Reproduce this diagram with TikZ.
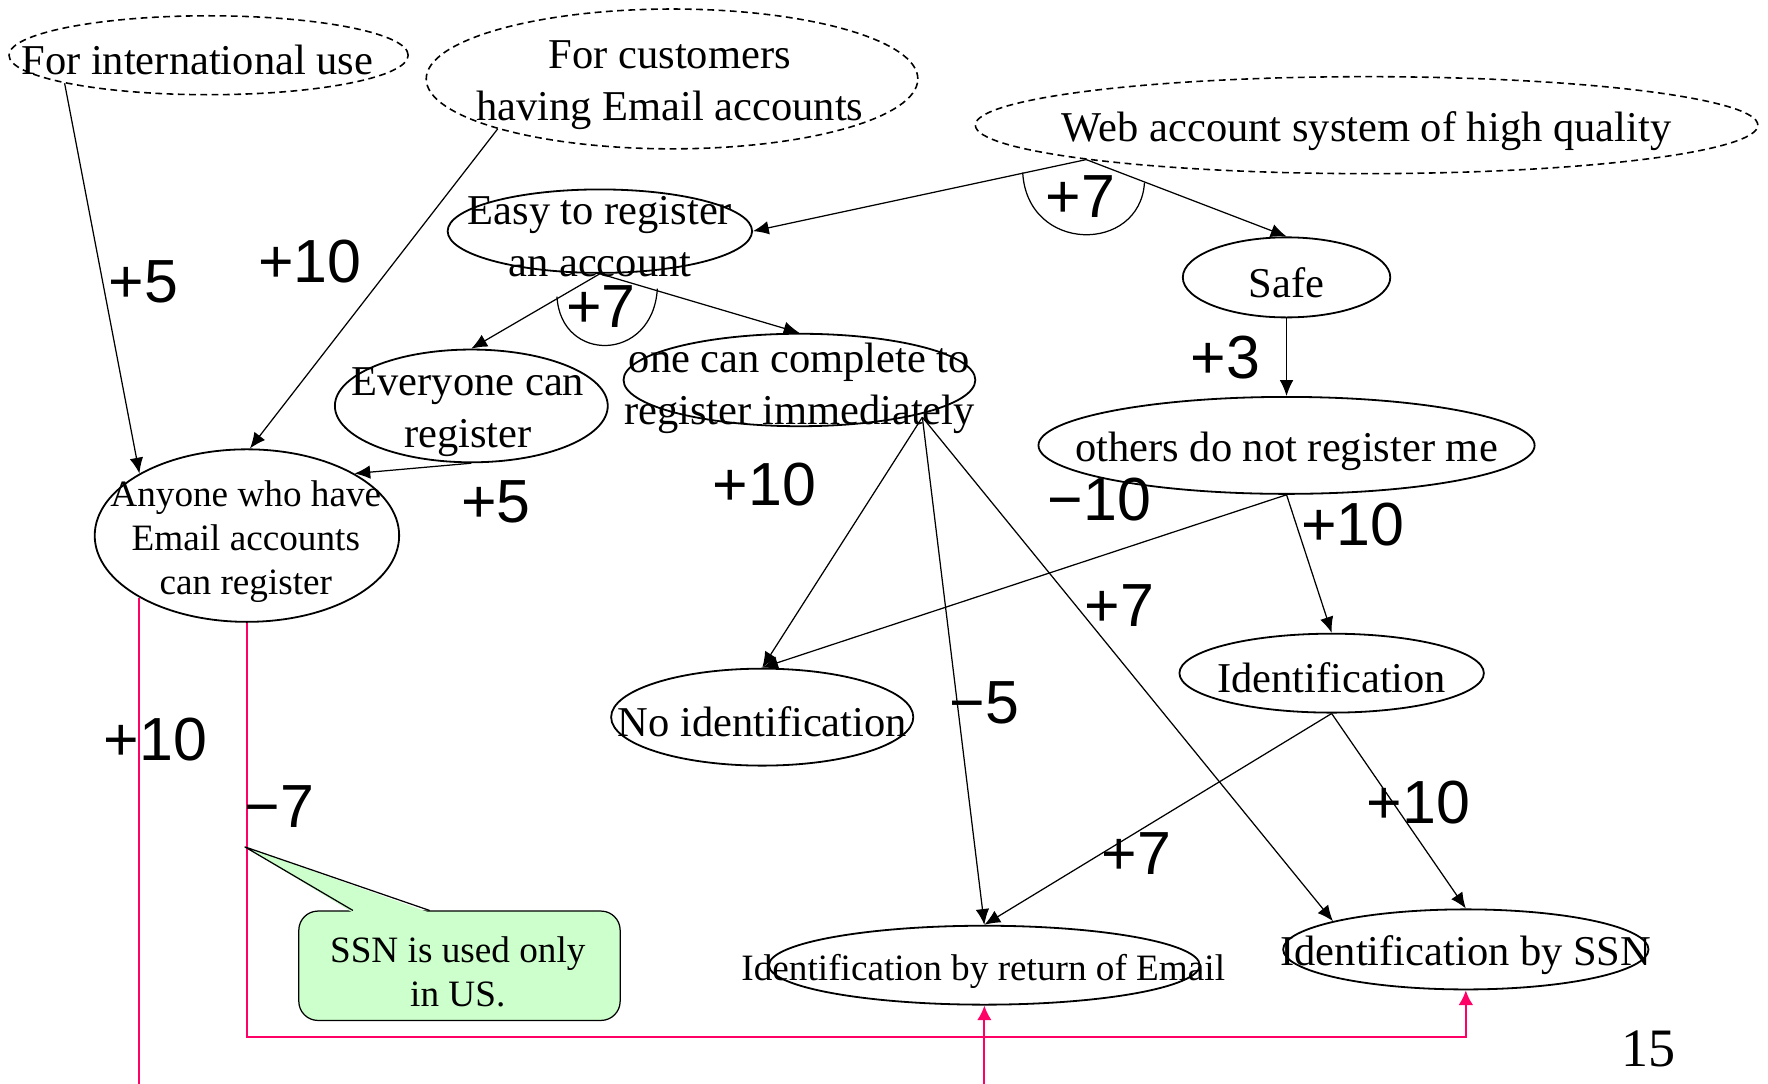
\documentclass[tikz,border=0pt]{standalone}
\usepackage{fontspec}
\setmainfont{Liberation Serif}
\newfontfamily\numfont{Liberation Sans}
\usetikzlibrary{shapes.geometric,arrows.meta,calc}

\definecolor{linkpink}{RGB}{255,0,102}
\definecolor{notegreen}{RGB}{204,255,204}

\begin{document}
\begin{tikzpicture}[x=1pt,y=-1pt,
  goal/.style={ellipse,draw,line width=1.6pt,inner sep=0pt},
  softgoal/.style={goal,dash pattern=on 6pt off 4pt,line width=1.4pt},
  bigtxt/.style={font=\fontsize{37.7}{46}\selectfont,align=center,inner sep=0pt},
  smalltxt/.style={font=\fontsize{33}{39}\selectfont,align=center,inner sep=0pt},
  weight/.style={font=\numfont\fontsize{54}{60}\selectfont,inner sep=0pt},
  link/.style={line width=1.1pt,-{Latex[length=14pt,width=12pt]}},
  plain/.style={line width=1.1pt},
  corr/.style={line width=1.8pt,draw=linkpink},
  corrarrow/.style={corr,-{Latex[length=13pt,width=13pt]}},
]
\useasboundingbox (0,0) rectangle (1568,961);

% goal ellipses
\node[softgoal,minimum width=354pt,minimum height=70pt] (intl) at (185,49) {};
\node[softgoal,minimum width=436pt,minimum height=124pt] (cust) at (596,70) {};
\node[softgoal,minimum width=694pt,minimum height=86pt] (web) at (1212,111) {};
\node[goal,minimum width=270pt,minimum height=74pt] (easy) at (532,205) {};
\node[goal,minimum width=184pt,minimum height=71pt] (safe) at (1141,246) {};
\node[goal,minimum width=242pt,minimum height=100pt] (every) at (418,360) {};
\node[goal,minimum width=312pt,minimum height=82pt] (one) at (709,337) {};
\node[goal,minimum width=440pt,minimum height=86pt] (others) at (1141,395) {};
\node[goal,minimum width=270pt,minimum height=153pt] (anyone) at (219,475) {};
\node[goal,minimum width=268pt,minimum height=86pt] (noid) at (676,636) {};
\node[goal,minimum width=270pt,minimum height=70pt] (ident) at (1181,597) {};
\node[goal,minimum width=382pt,minimum height=70pt] (email) at (873,856) {};
\node[goal,minimum width=324pt,minimum height=71pt] (ssn) at (1300,842) {};

% goal texts
\node[bigtxt] (intl-t) at (175,53.5) {For international use};
\node[bigtxt] (cust-t) at (594,75.5) {For customers\\having Email accounts};
\node[bigtxt] (web-t) at (1212,116.5) {Web account system of high quality};
\node[bigtxt] (easy-t) at (532,209.5) {Easy to register\\an account};
\node[bigtxt] (safe-t) at (1141,250.5) {Safe};
\node[bigtxt] (every-t) at (415,365.5) {Everyone can\\register};
\node[bigtxt] (one-t) at (709,344.5) {one can complete to\\register immediately};
\node[bigtxt] (others-t) at (1141,400.5) {others do not register me};
\node[smalltxt] (anyone-t) at (218,480.5) {Anyone who have\\Email accounts\\can register};
\node[bigtxt] (noid-t) at (676,640.5) {No identification};
\node[bigtxt] (ident-t) at (1181,601.5) {Identification};
\node[smalltxt] (email-t) at (872,861.5) {Identification by return of Email};
\node[bigtxt] (ssn-t) at (1300,847) {Identification by SSN};

% contribution links
\draw[link] (intl.191) -- (anyone.150);
\draw[link] (cust.196) -- (anyone.88);
\coordinate (webfork) at (web.187);
\draw[link] (webfork) -- (easy.east);
\draw[link] (webfork) -- (safe.north);
\draw[plain] (907,153) .. controls (911,225) and (1011,225) .. (1015,162);
\draw[link] (easy.south) -- (every.north);
\draw[link] (easy.south) -- (one.north);
\draw[plain] (494,263) .. controls (497,322) and (579,322) .. (583,256);
\draw[link] (every.south) -- (anyone.30);
\draw[link] (safe.south) -- (others.north);
\coordinate (onefork) at ($(one.center)+(109,33)$);
\draw[link] (onefork) -- (noid.north);
\draw[link] (onefork) -- (email.north);
\draw[link] (onefork) -- (ssn.168);
\draw[link] (others.south) -- (noid.north);
\draw[link] (others.south) -- (ident.north);
\draw[link] (ident.south) -- (email.north);
\draw[link] (ident.south) -- (ssn.north);

% correlation links
\coordinate (pagefoot) at (0,961);
\coordinate (rail) at (0,920);
\draw[corr] (anyone.210) -- (anyone.210 |- pagefoot);
\draw[corrarrow] (anyone.south) -- (anyone.south |- rail) -- (ssn.south |- rail) -- (ssn.south);
\draw[corrarrow] (email.south |- pagefoot) -- (email.south);

% weights
\node[weight] (w1) at (127,250) {+5};
\node[weight] (w2) at (275,232) {+10};
\node[weight] (w3) at (958,174) {+7};
\node[weight] (w4) at (533,272) {+7};
\node[weight] (w5) at (1087,317) {+3};
\node[weight] (w6) at (440,445) {+5};
\node[weight] (w7) at (678,430) {+10};
\node[weight] (w8) at (975,443) {−10};
\node[weight] (w9) at (1200,465) {+10};
\node[weight] (w10) at (993,537) {+7};
\node[weight] (w11) at (873,623) {−5};
\node[weight] (w12) at (1008,757) {+7};
\node[weight] (w13) at (1258,712) {+10};
\node[weight] (w14) at (138,656) {+10};
\node[weight] (w15) at (248,715) {−7};

% note callout
\node[draw,fill=notegreen,rounded corners=17pt,minimum width=285pt,minimum height=97pt,line width=1.1pt] (note) at (407.5,856.5) {};
\coordinate (notetip) at (217,751);
\fill[notegreen] ($(note.north)+(-94.5,2)$) -- (notetip) -- ($(note.north)+(-26.5,2)$) -- cycle;
\draw[line width=1.1pt] ($(note.north)+(-94.5,0)$) -- (notetip) -- ($(note.north)+(-26.5,0)$);
\node[smalltxt] (note-t) at (406,862) {SSN is used only\\in US.};

% page number
\node[font=\fontsize{48}{50}\selectfont,inner sep=0pt] (pageno) at (1462,930) {15};
\end{tikzpicture}
\end{document}
